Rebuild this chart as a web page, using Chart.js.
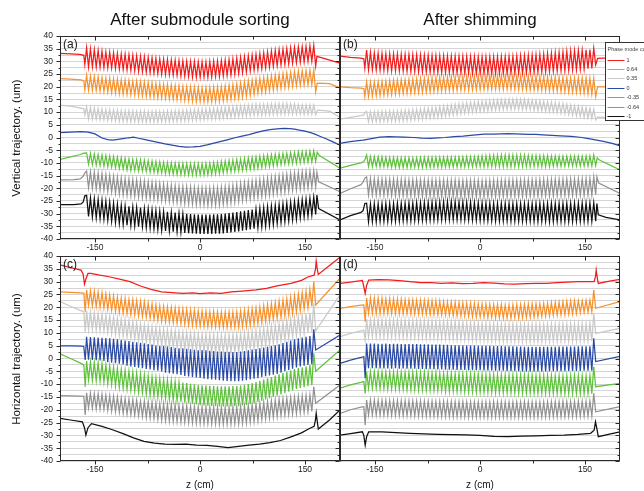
<!DOCTYPE html>
<html><head><meta charset="utf-8">
<script src="https://cdn.jsdelivr.net/npm/chart.js@4.4.1/dist/chart.umd.min.js"></script>
<style>
html,body{margin:0;padding:0;background:#fff;}
#wrap{position:relative;width:644px;height:491px;overflow:hidden;font-family:'Liberation Sans',Arial,sans-serif;color:#111;}
canvas{position:absolute;}
.t{position:absolute;white-space:nowrap;transform:translate(-50%,-50%);line-height:1;}
.r{transform:translate(-50%,-50%) rotate(-90deg);}
</style></head><body>
<div id="wrap">
<canvas id="cA" width="345" height="262" style="left:0;top:0;width:345px;height:262px"></canvas>
<canvas id="cB" width="304" height="262" style="left:340px;top:0;width:304px;height:262px"></canvas>
<canvas id="cC" width="345" height="251" style="left:0;top:240px;width:345px;height:251px"></canvas>
<canvas id="cD" width="304" height="251" style="left:340px;top:240px;width:304px;height:251px"></canvas>
<div class="t" style="left:200px;top:19px;font-size:17px">After submodule sorting</div>
<div class="t" style="left:480px;top:19px;font-size:17px">After shimming</div>
<div class="t r" style="left:17px;top:138px;font-size:11.5px">Vertical trajectory. (um)</div>
<div class="t r" style="left:17px;top:359px;font-size:11.5px">Horizontal trajectory. (um)</div>
<div class="t" style="left:200px;top:485px;font-size:10px">z (cm)</div>
<div class="t" style="left:480px;top:485px;font-size:10px">z (cm)</div>
</div>
<script>
// ---------- axes / categories ----------
const zTicks = [-150,-75,0,75,150];
const zTickLabels = ['-150','','0','','150'];
const yTicks = [-40,-37.5,-35,-32.5,-30,-27.5,-25,-22.5,-20,-17.5,-15,-12.5,-10,-7.5,-5,-2.5,0,2.5,5,7.5,10,12.5,15,17.5,20,22.5,25,27.5,30,32.5,35,37.5,40];
const yTickLabels = ['-40','','-35','','-30','','-25','','-20','','-15','','-10','','-5','','0','','5','','10','','15','','20','','25','','30','','35','','40'];
const phaseModes = ['1','0.64','0.35','0','-0.35','-0.64','-1'];
const panelLetters = ['(a)','(b)','(c)','(d)'];
// z positions of undulator half periods (peaks and troughs)
const zPoles = [-162,-159.25,-156.5,-153.75,-151,-148.25,-145.5,-142.75,-140,-137.25,-134.5,-131.75,-129,-126.25,-123.5,-120.75,-118,-115.25,-112.5,-109.75,-107,-104.25,-101.5,-98.75,-96,-93.25,-90.5,-87.75,-85,-82.25,-79.5,-76.75,-74,-71.25,-68.5,-65.75,-63,-60.25,-57.5,-54.75,-52,-49.25,-46.5,-43.75,-41,-38.25,-35.5,-32.75,-30,-27.25,-24.5,-21.75,-19,-16.25,-13.5,-10.75,-8,-5.25,-2.5,0.25,3,5.75,8.5,11.25,14,16.75,19.5,22.25,25,27.75,30.5,33.25,36,38.75,41.5,44.25,47,49.75,52.5,55.25,58,60.75,63.5,66.25,69,71.75,74.5,77.25,80,82.75,85.5,88.25,91,93.75,96.5,99.25,102,104.75,107.5,110.25,113,115.75,118.5,121.25,124,126.75,129.5,132.25,135,137.75,140.5,143.25,146,148.75,151.5,154.25,157,159.75,162.5,165.25];

// ---------- (a) vertical, after submodule sorting ----------
const aRedHead = [[-200,33.2],[-185,33],[-172,32.8],[-166,32.4],[-164.5,28.8]];
const aRedOsc = [35.4,27.8,34.9,27.9,34.6,27.8,34.3,27.7,34,27.6,33.7,27.5,33.6,27.4,33.4,27.2,33.1,27,32.9,26.8,32.8,26.6,32.6,26.5,32.4,26.3,32.2,26.1,32,25.9,31.8,25.8,31.6,25.6,31.4,25.4,31.2,25.2,31,25,30.9,24.9,30.8,24.8,30.6,24.6,30.5,24.5,30.3,24.3,30.2,24.2,30.1,24.1,30,23.9,29.9,23.8,29.8,23.8,29.8,23.8,29.8,23.8,29.9,23.9,30,24,30.1,24.1,30.3,24.3,30.5,24.5,30.7,24.7,31,25,31.3,25.3,31.6,25.6,31.9,25.9,32.2,26.2,32.5,26.5,32.8,26.8,33.1,27.1,33.4,27.4,33.7,27.7,34,28,34.3,28.3,34.6,28.6,34.8,28.8,35,29,35.3,29.3,35.5,29.5,35.7,29.7,35.8,29.8,35.9,30,36.1,30.1,36.3,28.2];
const aRedTail = [[167,32],[200,29.3]];
const aOrangeHead = [[-200,23.2],[-185,23],[-170,22.7],[-166,22.3],[-164.5,18.8]];
const aOrangeOsc = [24.5,18.6,24.2,18.6,24,18.5,23.8,18.3,23.6,18.1,23.4,17.9,23.3,17.7,23.1,17.5,22.9,17.3,22.7,17.1,22.6,17,22.5,16.9,22.3,16.8,22.2,16.6,22,16.4,21.8,16.2,21.7,16.1,21.5,15.9,21.3,15.7,21.2,15.6,21,15.4,20.9,15.3,20.7,15.1,20.5,14.9,20.4,14.8,20.2,14.6,20.1,14.5,20,14.3,19.9,14.2,19.8,14.2,19.7,14.1,19.7,14.1,19.8,14.1,19.9,14.2,20,14.3,20.1,14.5,20.4,14.7,20.6,15,20.9,15.3,21.1,15.5,21.5,15.9,21.9,16.3,22.3,16.7,22.6,17,23,17.4,23.3,17.7,23.6,18,24,18.4,24.3,18.7,24.6,19,24.9,19.3,25.2,19.6,25.4,19.8,25.7,20.1,26,20.4,26.2,20.6,26.3,20.7,26.4,20.8,26.5,20.9,26.6,18];
const aOrangeTail = [[167.5,21.4],[185,21.2],[200,19.5]];
const aGrayLtHead = [[-200,12.8],[-185,12.4],[-172,11.7],[-166,11.3],[-164.5,8.9]];
const aGrayLtOsc = [12.1,7.3,11.8,7.3,11.6,7.2,11.4,7,11.2,6.9,11,6.8,10.9,6.7,10.8,6.6,10.7,6.4,10.6,6.3,10.5,6.3,10.5,6.2,10.4,6.2,10.3,6.1,10.3,6.1,10.4,6,10.2,6.2,10.3,6.1,10.4,6.1,10.3,6.2,10.3,6.2,10.4,6.2,10.4,6.3,10.5,6.3,10.6,6.4,10.7,6.5,10.8,6.6,10.9,6.7,11,6.8,11.1,6.9,11.2,7,11.3,7.1,11.4,7.2,11.5,7.3,11.6,7.4,11.8,7.6,11.9,7.7,12.1,7.9,12.2,8,12.3,8.1,12.5,8.3,12.6,8.4,12.8,8.6,12.9,8.7,13,8.8,13,8.8,13.1,8.9,13.2,9,13.3,9.1,13.3,9.1,13.3,9.2,13.4,9.2,13.4,9.3,13.3,9.3,13.3,9.3,13,9.3,12.9,9.2,12.8,9.2,12.8,9.2,12.8,9];
const aGrayLtTail = [[168,10.8],[185,10.4],[200,8]];
const aBlue = [[-200,1.9],[-185,2.1],[-170,2.3],[-160,2.1],[-150,1.4],[-140,-0.2],[-132,-0.8],[-125,-1],[-117,-0.7],[-110,-0.4],[-102,-0.1],[-95,0.1],[-88,-0.3],[-80,-0.7],[-70,-1.3],[-60,-1.9],[-50,-2.5],[-40,-3],[-30,-3.5],[-20,-3.8],[-10,-3.7],[0,-3.5],[10,-2.9],[20,-2.2],[30,-1.5],[40,-0.8],[50,-0.1],[60,0.5],[70,1.1],[80,1.9],[90,2.6],[100,3.1],[110,3.4],[120,3.6],[128,3.5],[135,3.3],[142,2.9],[150,2.5],[158,1.9],[165,1.2],[172,0.4],[180,-0.5],[190,-1.7],[200,-3]];
const aGreenHead = [[-200,-8.6],[-185,-7.6],[-172,-6.8],[-166,-6.2]];
const aGreenOsc = [-6.1,-10.5,-6.3,-10.7,-6.5,-10.9,-6.7,-11.1,-6.9,-11.3,-7.1,-11.5,-7.3,-11.7,-7.5,-11.9,-7.8,-12.2,-8,-12.4,-8.2,-12.7,-8.4,-12.9,-8.6,-13,-8.7,-13.1,-8.8,-13.2,-9,-13.4,-9.2,-13.6,-9.3,-13.7,-9.5,-13.9,-9.6,-14,-9.8,-14.2,-9.9,-14.3,-10,-14.4,-10.1,-14.5,-10.2,-14.6,-10.2,-14.6,-10.3,-14.7,-10.3,-14.7,-10.3,-14.7,-10.3,-14.7,-10.3,-14.7,-10.2,-14.6,-10.1,-14.5,-9.9,-14.3,-9.8,-14.2,-9.5,-13.9,-9.3,-13.7,-9.1,-13.5,-8.9,-13.3,-8.7,-13.1,-8.5,-12.9,-8.3,-12.7,-8.1,-12.5,-7.9,-12.3,-7.7,-12.1,-7.4,-11.8,-7.2,-11.6,-7,-11.4,-6.8,-11.2,-6.6,-11,-6.5,-10.7,-6.3,-10.5,-6.2,-10.4,-6,-10.2,-5.9,-10.1,-5.7,-9.9,-5.6,-9.8,-5.5,-9.7,-5.4,-9.6,-5.3,-9.4];
const aGreenTail = [[167.5,-5.8],[170,-7],[200,-12.1]];
const aGrayHead = [[-200,-16.7],[-180,-16.6],[-171,-16.3],[-167,-15.3],[-164.5,-14]];
const aGrayOsc = [-13.2,-19.8,-13.5,-20.1,-13.7,-20.3,-14,-20.6,-14.2,-20.8,-14.6,-21.2,-14.9,-21.5,-15.3,-21.9,-15.6,-22.2,-16,-22.6,-16.2,-22.8,-16.4,-23,-16.6,-23.2,-16.8,-23.4,-17,-23.6,-17.2,-23.8,-17.5,-24.1,-17.7,-24.3,-17.9,-24.5,-18.2,-24.8,-18.4,-25,-18.6,-25.2,-18.8,-25.4,-19,-25.6,-19.2,-25.8,-19.3,-26,-19.4,-26.1,-19.5,-26.2,-19.7,-26.4,-19.8,-26.5,-19.8,-26.6,-19.9,-26.7,-19.9,-26.6,-19.8,-26.6,-19.8,-26.5,-19.6,-26.3,-19.4,-26.1,-19.1,-25.8,-18.9,-25.5,-18.6,-25.2,-18.2,-24.8,-17.9,-24.5,-17.6,-24.2,-17.3,-23.9,-17,-23.6,-16.7,-23.3,-16.4,-23,-16.1,-22.7,-15.7,-22.3,-15.4,-22,-15.1,-21.7,-14.8,-21.4,-14.5,-21.1,-14.2,-20.8,-14,-20.6,-13.8,-20.3,-13.6,-20.1,-13.4,-19.9,-13.3,-19.7,-13.1,-19.5];
const aGrayTail = [[167,-13.8],[169.5,-17.5],[200,-21.4]];
const aBlackHead = [[-200,-26.5],[-180,-26.5],[-170,-26.2],[-167,-25.5],[-164.5,-23]];
const aBlackOsc = [-22.8,-31.1,-23.8,-31.4,-24.1,-31.7,-24.4,-32,-24.7,-32.3,-25.1,-32.7,-25.5,-33.1,-25.9,-33.5,-26.3,-33.9,-26.7,-34.3,-27,-34.6,-27.1,-34.7,-27.3,-34.9,-27.5,-35.1,-27.6,-35.2,-27.9,-35.5,-28.1,-35.7,-28.4,-36,-28.7,-36.3,-29,-36.6,-29.2,-36.8,-29.3,-36.9,-29.5,-37.1,-29.6,-37.2,-29.8,-37.4,-30,-37.6,-30.1,-37.7,-30.2,-37.8,-30.3,-37.9,-30.4,-38,-30.4,-38,-30.4,-38,-30.4,-38,-30.3,-37.9,-30.3,-37.9,-30.2,-37.8,-30,-37.6,-29.8,-37.4,-29.6,-37.2,-29.4,-37,-29.1,-36.7,-28.9,-36.5,-28.6,-36.2,-28.4,-35.9,-28.2,-35.6,-27.9,-35.3,-27.6,-35,-27.3,-34.6,-27,-34.3,-26.7,-33.9,-26.4,-33.5,-26.1,-33.2,-25.8,-32.9,-25.5,-32.5,-25.2,-32.2,-24.8,-31.7,-24.5,-31.3,-24.2,-31,-23.9,-30.6,-23.5,-30.3];
const aBlackTail = [[167,-22.7],[169.5,-28],[200,-32.5]];

// ---------- (b) vertical, after shimming ----------
const bRedHead = [[-200,32.1],[-185,31.6],[-170,31.3],[-166,31],[-164.5,27.3]];
const bRedOsc = [34.5,26.7,33.5,26.7,33.3,26.6,33.2,26.5,33.1,26.5,33,26.4,33,26.3,32.9,26.3,32.9,26.2,32.8,26.2,32.7,26.1,32.7,26.1,32.6,26,32.6,25.9,32.5,25.9,32.4,25.8,32.4,25.7,32.3,25.7,32.3,25.6,32.2,25.6,32.2,25.6,32.1,25.5,32.1,25.4,32,25.4,32,25.4,32,25.3,31.9,25.3,31.9,25.2,31.8,25.2,31.8,25.2,31.8,25.2,31.8,25.2,31.8,25.1,31.8,25.2,31.9,25.2,31.9,25.2,31.9,25.2,32,25.3,32,25.3,32.1,25.3,32.2,25.4,32.3,25.5,32.4,25.5,32.5,25.6,32.6,25.7,32.8,25.8,32.9,25.9,33.1,26,33.2,26.1,33.4,26.2,33.5,26.3,33.7,26.4,33.9,26.5,34.1,26.7,34.2,26.8,34.3,26.9,34.4,27,34.6,27.1,34.7,27.2,35.2,28.6];
const bRedTail = [[168,31.2],[185,31.4],[200,31.5]];
const bOrangeHead = [[-200,20],[-185,19.7],[-170,19.5],[-166,19.3],[-164.5,16.1]];
const bOrangeOsc = [21.9,16.2,21.8,16.4,21.9,16.5,22,16.6,22.1,16.7,22.2,16.8,22.4,17,22.5,17.1,22.6,17.2,22.8,17.4,22.8,17.4,22.9,17.5,23,17.6,23.1,17.7,23.2,17.8,23.3,17.9,23.4,18,23.5,18.1,23.6,18.2,23.7,18.3,23.7,18.3,23.8,18.4,23.9,18.5,23.9,18.5,24,18.6,24.1,18.7,24.1,18.7,24.2,18.8,24.2,18.8,24.3,18.9,24.3,18.9,24.3,18.9,24.4,19,24.4,19,24.4,19,24.5,18.9,24.3,19.1,24.4,19,24.5,19,24.3,18.9,24.3,18.9,24.3,18.8,24.2,18.8,24.1,18.7,24.1,18.7,24,18.6,24,18.5,23.9,18.5,23.8,18.4,23.8,18.3,23.7,18.2,23.7,18.1,23.6,18,23.5,17.9,23.5,17.8,23.6,17.7,23.6,17.5,23.5,17.3,23.4,17.1,23.3,16.1];
const bOrangeTail = [[168,20],[185,20],[200,20]];
const bGrayLtHead = [[-200,7.2],[-185,7.9],[-170,8.6],[-166,8.9],[-164.5,9.8]];
const bGrayLtOsc = [10.3,6.2,10.1,6.2,10.2,6.3,10.2,6.2,10.3,6.3,10.3,6.3,10.4,6.4,10.4,6.4,10.5,6.5,10.6,6.6,10.7,6.7,10.8,6.8,11,7,11.1,7.1,11.3,7.3,11.5,7.5,11.6,7.6,11.8,7.8,11.9,7.9,12.1,8.1,12.3,8.3,12.5,8.5,12.8,8.8,13,9,13.3,9.3,13.5,9.5,13.7,9.7,13.9,9.9,14,10,14.2,10.2,14.3,10.3,14.4,10.4,14.5,10.5,14.7,10.7,14.8,10.8,14.9,10.9,15,11,15,11,15.1,11.1,15.1,11.1,15,11,15,11,14.9,10.9,14.7,10.7,14.6,10.6,14.5,10.5,14.3,10.3,14.1,10.1,14,10,13.8,9.8,13.6,9.6,13.4,9.4,13.1,9.1,12.8,8.8,12.5,8.5,12.3,8.3,12,8,11.8,7.8,11.5,7.5,11.2,6.9];
const bGrayLtTail = [[168,8],[185,7.8],[200,7]];
const bBlue = [[-200,-2.3],[-190,-1.8],[-180,-1.4],[-167,-1],[-155,-0.4],[-143,0.1],[-130,0.3],[-121,0.2],[-108,0.1],[-95,0],[-83,-0.2],[-71,-0.3],[-60,-0.1],[-50,0],[-37,0.3],[-24,0.5],[-10,0.9],[6,1.3],[18,1.3],[30,1.4],[40,1.5],[50,1.4],[60,1.3],[70,1.2],[80,1.2],[90,1],[103,0.8],[115,0.6],[130,0.4],[143,0.1],[155,-0.4],[167,-1],[178,-1.6],[190,-2.4],[200,-3.3]];
const bGreenHead = [[-200,-12.1],[-185,-11],[-170,-10],[-166,-9.5],[-164,-8.5]];
const bGreenOsc = [-6.9,-11.4,-7.5,-11.4,-7.6,-11.4,-7.6,-11.5,-7.7,-11.5,-7.8,-11.6,-7.9,-11.7,-7.9,-11.8,-8,-11.8,-8,-11.8,-8,-11.8,-8,-11.8,-8.1,-11.7,-8,-11.8,-7.9,-11.8,-7.9,-11.7,-7.9,-11.7,-7.9,-11.7,-7.8,-11.7,-7.8,-11.7,-7.8,-11.6,-7.8,-11.6,-7.8,-11.6,-7.8,-11.6,-7.7,-11.6,-7.7,-11.5,-7.6,-11.5,-7.6,-11.5,-7.6,-11.4,-7.5,-11.4,-7.3,-11.5,-7.2,-11.5,-7.1,-11.5,-7.1,-11.5,-7,-11.5,-6.9,-11.5,-6.9,-11.5,-6.9,-11.5,-6.9,-11.5,-7,-11.5,-7,-11.4,-7,-11.4,-7.1,-11.4,-7.1,-11.4,-7.1,-11.4,-7.2,-11.4,-7.2,-11.4,-7.2,-11.4,-7.3,-11.3,-7.3,-11.3,-7.4,-11.3,-7.4,-11.3,-7.4,-11.2,-7.4,-11.2,-7.4,-11.2,-7.4,-11.2,-7.4,-11.2,-7.3,-11.2,-7.3,-11.2,-6.9,-11];
const bGreenTail = [[167.5,-8],[170,-8.8],[200,-12.8]];
const bGrayHead = [[-200,-22],[-185,-20.2],[-170,-18.6],[-167,-17.6],[-164.5,-16]];
const bGrayOsc = [-15.5,-22.6,-16.2,-22.6,-16.3,-22.7,-16.3,-22.7,-16.4,-22.8,-16.4,-22.8,-16.5,-22.9,-16.5,-22.9,-16.6,-23,-16.6,-23,-16.6,-23,-16.7,-23.1,-16.7,-23.1,-16.7,-23.1,-16.8,-23.2,-16.8,-23.2,-16.8,-23.2,-16.8,-23.2,-16.9,-23.3,-16.9,-23.3,-16.9,-23.3,-16.9,-23.3,-16.9,-23.3,-16.9,-23.3,-17,-23.4,-17,-23.4,-17,-23.4,-17,-23.4,-17,-23.4,-17,-23.4,-17.1,-23.4,-17,-23.5,-17,-23.4,-16.9,-23.4,-17,-23.3,-16.9,-23.3,-16.9,-23.3,-16.8,-23.3,-16.8,-23.2,-16.8,-23.2,-16.8,-23.2,-16.7,-23.2,-16.7,-23.1,-16.7,-23.1,-16.7,-23.1,-16.6,-23.1,-16.6,-23,-16.6,-23,-16.5,-23,-16.5,-22.9,-16.5,-22.9,-16.5,-22.9,-16.4,-22.9,-16.4,-22.8,-16.4,-22.8,-16.3,-22.8,-16.3,-22.8,-16.2,-22.7,-16.2,-22.7,-15.5,-22.5];
const bGrayTail = [[167,-15.5],[169.5,-18],[200,-22]];
const bBlackHead = [[-200,-32.5],[-185,-30.8],[-170,-29.5],[-167,-28.8],[-164.5,-26]];
const bBlackOsc = [-25.9,-33.2,-26.2,-33.2,-26.1,-33.2,-26.1,-33.1,-26.1,-33.1,-26,-33.1,-26,-33,-26,-33,-25.9,-33,-25.9,-32.9,-25.9,-32.9,-25.8,-32.9,-25.8,-32.8,-25.7,-32.8,-25.7,-32.7,-25.6,-32.7,-25.6,-32.6,-25.5,-32.6,-25.5,-32.5,-25.4,-32.5,-25.4,-32.4,-25.3,-32.4,-25.3,-32.4,-25.3,-32.4,-25.4,-32.4,-25.4,-32.5,-25.5,-32.5,-25.5,-32.6,-25.6,-32.6,-25.7,-32.7,-25.7,-32.7,-25.8,-32.8,-25.8,-32.8,-25.9,-32.9,-25.9,-32.9,-25.9,-32.9,-25.9,-32.9,-25.9,-33,-26,-33,-26,-33,-26,-33,-26,-33,-26,-33,-26,-33.1,-26,-33.1,-25.9,-33.1,-26.1,-33,-26,-33.2,-25.9,-33.1,-26,-33.1,-26,-33.1,-26,-33.1,-25.9,-33.1,-25.9,-33.1,-25.9,-33,-25.9,-33,-25.8,-33,-25.8,-33,-25.8,-33,-25.7,-33];
const bBlackTail = [[167,-26],[169,-30.5],[180,-31.5],[200,-32.5]];

// ---------- (c) horizontal, after submodule sorting ----------
const cRed = [[-200,36.5],[-185,35.5],[-170,34.5],[-167,33],[-165,29],[-163,31],[-160,33.2],[-156,33.2],[-145,32.6],[-130,31.9],[-115,31],[-100,30],[-85,28.3],[-70,27],[-55,26],[-40,25.7],[-25,25.4],[-10,25.6],[0,25.3],[15,25.6],[30,25.4],[45,26],[60,26.3],[80,26.8],[95,27.4],[110,28.3],[130,29.3],[145,30.5],[155,31.9],[163,32.5],[165,35],[166,38],[167.5,35],[169,32.8],[185,36.3],[200,39.5]];
const cOrangeHead = [[-200,26],[-185,25.8],[-170,25.6],[-166,25.5],[-164,18.3]];
const cOrangeOsc = [26.8,20.8,26.5,20.5,26.3,20.3,26,20,25.7,19.7,25.2,19.2,24.8,18.8,24.4,18.4,24,18,23.6,17.6,23.4,17.4,23.1,17.1,22.9,16.9,22.6,16.6,22.4,16.4,22.1,16.1,21.7,15.7,21.3,15.3,20.9,14.9,20.5,14.5,20.3,14.3,20.1,14.1,19.9,13.9,19.7,13.7,19.5,13.5,19.3,13.3,19.1,13.1,18.9,12.9,18.8,12.8,18.6,12.6,18.5,12.5,18.4,12.4,18.3,12.3,18.3,12.3,18.2,12.2,18.1,12.1,18.1,12.1,18.1,12.1,18.2,12.1,18.2,12.2,18.5,12.3,18.8,12.6,19.1,12.9,19.4,13.2,19.7,13.5,20.1,13.9,20.6,14.4,21,14.8,21.4,15.2,21.8,15.6,22.3,15.9,22.8,16.4,23.3,16.9,23.9,17.5,24.5,18.1,25.1,18.7,25.7,19.3,26.2,19.8,27,20.4,30,20.9];
const cOrangeTail = [[200,31.3]];
const cGrayLtHead = [[-200,22.2],[-185,20.4],[-170,18.7],[-166,18.2],[-164,10.5]];
const cGrayLtOsc = [18.6,11.2,18.2,11.2,17.9,11,17.7,10.8,17.4,10.6,17,10.2,16.6,9.8,16.2,9.4,15.8,9,15.5,8.7,15.2,8.4,14.8,8,14.4,7.6,14,7.2,13.6,6.8,13.2,6.4,12.9,6.1,12.5,5.7,12.2,5.4,11.8,5,11.6,4.8,11.4,4.6,11.1,4.3,10.9,4.1,10.6,3.8,10.4,3.6,10.3,3.5,10.1,3.3,9.9,3.1,9.7,2.9,9.6,2.6,9.5,2.5,9.4,2.4,9.3,2.3,9.3,2.3,9.3,2.3,9.3,2.3,9.3,2.3,9.4,2.4,9.5,2.5,9.8,2.8,10.1,3.1,10.4,3.4,10.7,3.7,11,4,11.5,4.5,11.9,4.9,12.3,5.3,12.8,5.8,13.2,6.2,13.7,6.7,14.2,7.2,14.8,7.8,15.3,8.3,15.9,8.9,16.4,9.2,16.8,9.6,17.3,10,17.8,10.4,21.5,10.8];
const cGrayLtTail = [[200,24.8]];
const cBlueHead = [[-200,4.9],[-185,4.9],[-170,4.8],[-166,4.7],[-164,-0.6]];
const cBlueOsc = [8.5,-0.5,8.4,-0.6,8.3,-0.7,8.2,-0.8,8.1,-1,8,-1.4,7.9,-1.6,7.7,-1.8,7.5,-2,7.2,-2.3,7,-2.8,6.8,-3.1,6.5,-3.3,6.3,-3.6,6.1,-3.8,5.9,-4.1,5.6,-4.3,5.4,-4.6,5.1,-4.8,4.9,-5.1,4.9,-5.5,4.7,-5.7,4.5,-5.9,4.2,-6.1,4,-6.4,4,-6.8,3.8,-7,3.6,-7.2,3.4,-7.4,3.2,-7.6,3.3,-7.9,3.2,-8.1,3,-8.2,2.9,-8.3,2.7,-8.5,2.7,-8.7,2.6,-8.8,2.6,-8.9,2.5,-8.9,2.5,-8.9,2.7,-8.7,2.9,-8.5,3.2,-8.2,3.5,-7.9,3.7,-7.7,4,-7.2,4.3,-6.9,4.6,-6.6,4.9,-6.3,5.2,-6,5.5,-5.5,6,-5,6.5,-4.5,7,-4,7.5,-3.5,7.9,-3.1,8.2,-2.8,8.5,-2.5,8.8,-2.2,11.4,3.3];
const cBlueTail = [[200,9.2]];
const cGreenHead = [[-200,1.8],[-185,0],[-170,-1.9],[-166,-2.5],[-164,-11]];
const cGreenOsc = [-1,-8.3,-1.3,-8.5,-1.5,-8.7,-1.7,-8.9,-1.9,-9.2,-2.4,-9.8,-2.8,-10.2,-3.3,-10.7,-3.8,-11.2,-4.2,-11.6,-4.6,-12,-4.9,-12.3,-5.3,-12.7,-5.7,-13.1,-6,-13.4,-6.4,-14,-6.8,-14.4,-7.1,-14.7,-7.5,-15.1,-7.8,-15.4,-8.1,-15.7,-8.4,-16,-8.7,-16.3,-9,-16.6,-9.3,-16.9,-9.4,-17.2,-9.6,-17.4,-9.9,-17.7,-10.1,-17.9,-10.4,-18.2,-10.5,-18.3,-10.6,-18.4,-10.7,-18.5,-10.8,-18.6,-10.9,-18.7,-10.9,-18.7,-10.9,-18.7,-10.9,-18.7,-10.8,-18.6,-10.8,-18.6,-10.6,-18.4,-10.3,-18.1,-10,-17.8,-9.6,-17.4,-9.2,-17,-8.7,-16.5,-8.2,-16,-7.7,-15.5,-7.2,-15,-6.7,-14.5,-6.2,-14,-5.7,-13.5,-5.2,-13,-4.7,-12.5,-4.1,-11.9,-3.7,-11.5,-3.4,-11.2,-3,-10.8,-2.6,-10.4,2,-5];
const cGreenTail = [[200,3.3]];
const cGrayHead = [[-200,-14.5],[-185,-14.6],[-170,-14.7],[-166,-14.8],[-164,-22]];
const cGrayOsc = [-13.4,-19.2,-13.6,-19.4,-13.7,-19.6,-13.8,-19.7,-14,-19.8,-14.3,-20.2,-14.6,-20.5,-14.8,-20.8,-15,-21,-15.4,-21.4,-15.7,-21.7,-15.9,-21.9,-16.1,-22.1,-16.3,-22.3,-16.6,-22.6,-16.6,-23,-16.8,-23.2,-17,-23.4,-17.3,-23.7,-17.6,-24,-17.6,-24.2,-17.8,-24.4,-17.9,-24.5,-18,-24.6,-18.2,-24.8,-18.3,-24.9,-18.4,-25,-18.5,-25.1,-18.6,-25.2,-18.7,-25.3,-18.8,-25.4,-18.8,-25.4,-18.9,-25.5,-18.9,-25.5,-19,-25.6,-19,-25.6,-19,-25.6,-19,-25.6,-18.9,-25.5,-18.9,-25.5,-18.7,-25.3,-18.5,-25.1,-18.2,-24.8,-18,-24.6,-17.7,-24.3,-17.4,-23.8,-17.1,-23.5,-16.8,-23.2,-16.5,-22.9,-16.2,-22.6,-15.9,-22.3,-15.7,-22.1,-15.5,-21.9,-15.3,-21.7,-15.1,-21.5,-14.8,-21.2,-14.6,-21,-14.4,-20.8,-14.3,-20.7,-11,-17.5];
const cGrayTail = [[200,-10.3]];
const cBlack = [[-200,-23.4],[-185,-24],[-168,-24.7],[-165,-27],[-163,-29.9],[-160,-27],[-155,-25.4],[-140,-26.5],[-125,-27.8],[-110,-29.3],[-95,-31],[-80,-32.3],[-65,-33],[-50,-33.4],[-35,-33.5],[-20,-33.4],[-5,-33.8],[10,-33.9],[25,-34.3],[40,-34.8],[55,-34.3],[70,-33.8],[85,-33.4],[100,-32.8],[115,-32],[130,-30.6],[145,-29],[155,-27.5],[163,-26.5],[165,-24],[166,-21.4],[167.5,-24.5],[169,-27.5],[185,-24],[200,-20.1]];

// ---------- (d) horizontal, after shimming ----------
const dRed = [[-200,29.3],[-185,29.8],[-168,30.5],[-166,28],[-164,25.4],[-162,28.5],[-159,30.6],[-145,30.8],[-130,30.7],[-115,30.4],[-100,30],[-85,29.6],[-70,29.6],[-55,29.3],[-40,29.5],[-25,29.2],[-10,29.3],[5,29.6],[20,29.4],[35,29.1],[50,29],[65,29.2],[80,29.3],[95,29.3],[110,29.6],[125,29.8],[140,30],[155,30],[163,30],[165,32],[166,34.5],[167.5,31.5],[169,29.3],[185,30.2],[200,30.9]];
const dOrangeHead = [[-200,19.6],[-185,20.2],[-170,20.8],[-166,20.9],[-164,14.4]];
const dOrangeOsc = [23.6,17.6,23.6,17.6,23.5,17.5,23.5,17.5,23.5,17.5,23.3,17.6,23.3,17.5,23.2,17.5,23.2,17.4,23.1,17.4,22.9,17.5,22.8,17.4,22.8,17.4,22.7,17.3,22.7,17.3,22.6,17.2,22.6,17.1,22.5,17.1,22.5,17,22.4,17,22.1,16.9,22,16.8,22,16.7,21.9,16.6,21.8,16.6,21.7,16.5,21.6,16.4,21.6,16.3,21.5,16.2,21.4,16.2,21.3,16.1,21.3,16,21.2,16,21.1,15.9,21.1,15.9,21.1,15.8,20.9,15.8,21,15.7,21,15.9,21.1,15.8,21.1,15.9,21.2,16,21.3,16.1,21.3,16.1,21.4,16.2,21.4,16.4,21.5,16.5,21.6,16.6,21.8,16.8,21.9,16.9,22,17,22.1,17.1,22.3,17.3,22.4,17.4,22.5,17.5,22.5,17.9,22.6,18,22.7,18.1,22.8,18.2,26.7,19.6];
const dOrangeTail = [[200,22.2]];
const dGrayLtHead = [[-200,8.5],[-185,9.8],[-170,10.8],[-166,11],[-164,7.2]];
const dGrayLtOsc = [15.3,8.4,15.1,8.5,15.2,8.3,15.2,8.4,15.1,8.4,15.1,8.3,15.1,8.3,15.1,8.3,15.1,8.3,15,8.2,15,8.1,14.9,8.1,14.9,8.1,14.9,8.1,14.8,8,14.8,7.9,14.7,7.9,14.7,7.9,14.6,7.8,14.6,7.8,14.5,7.7,14.5,7.6,14.4,7.6,14.4,7.5,14.3,7.5,14.2,7.4,14.1,7.3,14.1,7.2,14,7.1,13.9,7.1,13.8,7,13.8,6.9,13.7,6.9,13.7,6.8,13.6,6.8,13.6,6.7,13.5,6.7,13.5,6.7,13.5,6.6,13.4,6.6,13.5,6.6,13.3,6.6,13.4,6.5,13.4,6.7,13.5,6.6,13.4,6.6,13.4,6.6,13.4,6.6,13.5,6.6,13.5,6.6,13.5,6.7,13.5,6.7,13.5,6.7,13.6,6.7,13.6,6.7,13.6,6.8,13.6,6.8,13.6,6.8,13.7,6.8,17.6,9.8];
const dGrayLtTail = [[200,11.8]];
const dBlueHead = [[-200,-1.9],[-185,-0.6],[-170,0.4],[-166,0.7],[-164,-7.7]];
const dBlueOsc = [5.8,-3.8,5.8,-3.8,5.8,-3.8,5.7,-3.9,5.7,-3.9,5.8,-3.9,5.6,-4,5.7,-3.8,5.7,-4,5.6,-3.9,5.6,-4,5.6,-4,5.6,-4,5.6,-4.1,5.5,-4.1,5.5,-4.2,5.5,-4.2,5.4,-4.2,5.4,-4.3,5.4,-4.3,5.3,-4.4,5.3,-4.4,5.2,-4.4,5.2,-4.5,5.2,-4.5,5.1,-4.5,5.1,-4.6,5.1,-4.6,5.1,-4.6,5,-4.6,5,-4.7,5,-4.7,5,-4.7,4.9,-4.8,4.9,-4.8,4.9,-4.8,4.8,-4.9,4.8,-4.9,4.8,-4.9,4.7,-5,4.7,-5.1,4.6,-5.1,4.6,-5.1,4.6,-5.1,4.6,-5.1,4.6,-5.1,4.6,-5.1,4.6,-5,4.6,-5,4.6,-5,4.7,-5,4.7,-5,4.7,-4.9,4.7,-4.9,4.7,-4.9,4.8,-4.9,4.8,-4.8,4.8,-4.8,4.8,-4.8,7.9,-1.2];
const dBlueTail = [[200,0.8]];
const dGreenHead = [[-200,-11.6],[-185,-10.3],[-170,-9.3],[-166,-9],[-164,-13.6]];
const dGreenOsc = [-5.2,-11.6,-5.2,-11.6,-5.2,-11.6,-5.2,-11.7,-5.2,-11.7,-5.3,-11.9,-5.3,-11.9,-5.3,-11.9,-5.3,-12,-5.3,-12,-5.4,-12.2,-5.4,-12.2,-5.4,-12.2,-5.4,-12.2,-5.5,-12.3,-5.5,-12.4,-5.6,-12.4,-5.6,-12.4,-5.6,-12.5,-5.7,-12.5,-5.8,-12.8,-5.8,-12.8,-5.8,-12.8,-5.9,-12.9,-5.9,-12.9,-6,-13,-6,-13,-6,-13,-6.1,-13.1,-6.1,-13.1,-6.2,-13.2,-6.2,-13.2,-6.2,-13.2,-6.3,-13.3,-6.3,-13.3,-6.4,-13.4,-6.4,-13.4,-6.4,-13.4,-6.4,-13.4,-6.5,-13.5,-6.5,-13.5,-6.5,-13.5,-6.5,-13.5,-6.5,-13.5,-6.6,-13.6,-6.6,-13.6,-6.6,-13.6,-6.6,-13.6,-6.6,-13.6,-6.7,-13.7,-6.7,-13.7,-6.8,-13.7,-6.7,-13.8,-6.7,-13.7,-6.6,-13.7,-6.7,-13.7,-6.7,-13.7,-6.7,-13.7,-6.7,-13.7,-3.2,-11];
const dGreenTail = [[200,-9.7]];
const dGrayHead = [[-200,-21.4],[-185,-20],[-170,-19],[-166,-18.8],[-164,-26]];
const dGrayOsc = [-16.2,-22,-16.2,-22,-16.2,-22,-16.3,-22.1,-16.3,-22.1,-16.3,-22.1,-16.4,-22.2,-16.4,-22.2,-16.4,-22.2,-16.5,-22.3,-16.5,-22.3,-16.5,-22.3,-16.6,-22.4,-16.6,-22.4,-16.6,-22.4,-16.7,-22.5,-16.7,-22.5,-16.7,-22.5,-16.8,-22.6,-16.8,-22.6,-16.8,-22.6,-16.8,-22.6,-16.9,-22.7,-16.9,-22.7,-16.9,-22.7,-16.9,-22.7,-17,-22.8,-17,-22.8,-17,-22.8,-17,-22.8,-17.1,-22.8,-17,-22.9,-17,-22.8,-16.9,-22.8,-17,-22.7,-17,-22.8,-17,-22.8,-17.1,-22.9,-17,-22.8,-17,-22.8,-17,-22.8,-16.9,-22.8,-17,-22.8,-17,-22.9,-17,-22.8,-17,-22.8,-17,-22.8,-16.9,-22.7,-16.9,-22.7,-16.9,-22.7,-16.9,-22.7,-16.8,-22.7,-16.8,-22.6,-16.8,-22.6,-16.8,-22.6,-16.7,-22.6,-16.7,-22.5,-16.7,-22.5,-16.6,-22.5,-13.6,-20.8];
const dGrayTail = [[200,-18.8]];
const dBlack = [[-200,-29.9],[-185,-29.3],[-168,-28.6],[-166,-30],[-164,-33.8],[-162,-30.5],[-159,-28.6],[-140,-28.6],[-120,-28.9],[-100,-29.2],[-80,-29.4],[-60,-29.6],[-40,-29.7],[-20,-29.8],[0,-30],[20,-30.4],[40,-30.5],[60,-30.3],[80,-30.2],[100,-30],[120,-29.9],[140,-29.6],[158,-29.2],[163,-28],[165,-24.7],[167,-27.5],[169,-30.5],[185,-29.5],[200,-28.6]];

// ---------- styles ----------
const traceColors = ['#f21c1c','#f7922d','#c9c9c9','#2a4aa6','#5fc23c','#929292','#111111'];

function pts(pairs){ return pairs.map(p => ({x:p[0], y:p[1]})); }
function osc(head, vals, tail){ return pts(head).concat(vals.map((v,i)=>({x:zPoles[i], y:v})), pts(tail)); }

const panels = [
 [osc(aRedHead,aRedOsc,aRedTail), osc(aOrangeHead,aOrangeOsc,aOrangeTail), osc(aGrayLtHead,aGrayLtOsc,aGrayLtTail), pts(aBlue), osc(aGreenHead,aGreenOsc,aGreenTail), osc(aGrayHead,aGrayOsc,aGrayTail), osc(aBlackHead,aBlackOsc,aBlackTail)],
 [osc(bRedHead,bRedOsc,bRedTail), osc(bOrangeHead,bOrangeOsc,bOrangeTail), osc(bGrayLtHead,bGrayLtOsc,bGrayLtTail), pts(bBlue), osc(bGreenHead,bGreenOsc,bGreenTail), osc(bGrayHead,bGrayOsc,bGrayTail), osc(bBlackHead,bBlackOsc,bBlackTail)],
 [pts(cRed), osc(cOrangeHead,cOrangeOsc,cOrangeTail), osc(cGrayLtHead,cGrayLtOsc,cGrayLtTail), osc(cBlueHead,cBlueOsc,cBlueTail), osc(cGreenHead,cGreenOsc,cGreenTail), osc(cGrayHead,cGrayOsc,cGrayTail), pts(cBlack)],
 [pts(dRed), osc(dOrangeHead,dOrangeOsc,dOrangeTail), osc(dGrayLtHead,dGrayLtOsc,dGrayLtTail), osc(dBlueHead,dBlueOsc,dBlueTail), osc(dGreenHead,dGreenOsc,dGreenTail), osc(dGrayHead,dGrayOsc,dGrayTail), pts(dBlack)]
];

Chart.defaults.font.family = "'Liberation Sans', Arial, sans-serif";
Chart.defaults.color = '#222';

const framePlugin = {
  id: 'frame',
  afterDatasetsDraw(chart, args, o) {
    const ctx = chart.ctx, a = chart.chartArea, xs = chart.scales.x, ys = chart.scales.y;
    const L = Math.round(a.left)+0.5, R = Math.round(a.right)-0.5, T = Math.round(a.top)+0.5, B = Math.round(a.bottom)-0.5;
    ctx.save();
    ctx.strokeStyle = '#2b2b2b'; ctx.lineWidth = 1;
    ctx.strokeRect(L, T, R-L, B-T);
    ctx.beginPath();
    yTicks.forEach((v,i) => {
      const p = Math.round(ys.getPixelForValue(v))+0.5, len = (i%2===0) ? 4 : 2;
      ctx.moveTo(L, p); ctx.lineTo(L-len, p);
      ctx.moveTo(R, p); ctx.lineTo(R-len, p);
    });
    zTicks.forEach((v,i) => {
      const p = Math.round(xs.getPixelForValue(v))+0.5, len = zTickLabels[i] ? 4 : 3;
      ctx.moveTo(p, B); ctx.lineTo(p, B+len);
      ctx.moveTo(p, T); ctx.lineTo(p, T+len);
    });
    ctx.stroke();
    ctx.fillStyle = '#222'; ctx.font = "12px 'Liberation Sans', Arial, sans-serif"; ctx.textBaseline = 'top';
    ctx.fillText(o.letter, a.left+3, a.top+3);
    ctx.restore();
  },
  afterDraw(chart, args, o) {
    if (!o.legend) return;
    const ctx = chart.ctx, bx = 265.5, by = 42.5;
    ctx.save();
    ctx.fillStyle = '#fff'; ctx.strokeStyle = '#333'; ctx.lineWidth = 1;
    ctx.fillRect(bx, by, 60, 78); ctx.strokeRect(bx, by, 60, 78);
    ctx.fillStyle = '#444'; ctx.font = "5.5px 'Liberation Sans', Arial, sans-serif"; ctx.textBaseline = 'middle';
    ctx.fillText('Phase mode coefficient', bx+2, by+7);
    phaseModes.forEach((lab,i) => {
      const yy = by + 17 + i*9.45;
      ctx.strokeStyle = traceColors[i]; ctx.beginPath(); ctx.moveTo(bx+2, Math.round(yy)+0.5); ctx.lineTo(bx+19, Math.round(yy)+0.5); ctx.stroke();
      ctx.fillStyle = '#333'; ctx.fillText(lab, bx+21, yy+0.5);
    });
    ctx.restore();
  }
};

function makeChart(id, series, letter, cfg) {
  new Chart(document.getElementById(id), {
    type: 'line',
    data: { datasets: series.map((d,i) => ({ label: phaseModes[i], data: d, borderColor: traceColors[i], borderWidth: 1.25, pointRadius: 0, tension: 0, fill: false })) },
    options: {
      responsive: false, animation: false, devicePixelRatio: 1, events: [],
      parsing: false, normalized: true,
      layout: { padding: cfg.pad },
      plugins: { legend: {display:false}, tooltip: {enabled:false}, frame: { letter: letter, legend: cfg.legend } },
      scales: {
        x: { type:'linear', min:-200, max:200,
             afterBuildTicks: s => { s.ticks = zTicks.map(v => ({value:v})); },
             afterFit: s => { s.height = cfg.xh; },
             ticks: { autoSkip:false, maxRotation:0, padding:4, font:{size:8.5}, color:'#222', callback: (v,i) => zTickLabels[i] },
             grid: { display:false, drawTicks:false }, border: { display:false } },
        y: { type:'linear', min:-40, max:40,
             afterBuildTicks: s => { s.ticks = yTicks.map(v => ({value:v})); },
             afterFit: s => { s.width = cfg.yw; },
             ticks: { display: cfg.yLabels, autoSkip:false, padding:7, font:{size:8.5}, color:'#222', callback: (v,i) => yTickLabels[i] },
             grid: { color:'#d5d5d5', lineWidth:1, drawTicks:false }, border: { display:false } }
      }
    },
    plugins: [framePlugin]
  });
}

makeChart('cA', panels[0], panelLetters[0], { pad:{top:36,right:5,left:0,bottom:0}, xh:23, yw:60, yLabels:true, legend:false });
makeChart('cB', panels[1], panelLetters[1], { pad:{top:36,right:24,left:0,bottom:0}, xh:23, yw:0, yLabels:false, legend:true });
makeChart('cC', panels[2], panelLetters[2], { pad:{top:16,right:5,left:0,bottom:0}, xh:30, yw:60, yLabels:true, legend:false });
makeChart('cD', panels[3], panelLetters[3], { pad:{top:16,right:24,left:0,bottom:0}, xh:30, yw:0, yLabels:false, legend:false });
</script>
</body></html>
